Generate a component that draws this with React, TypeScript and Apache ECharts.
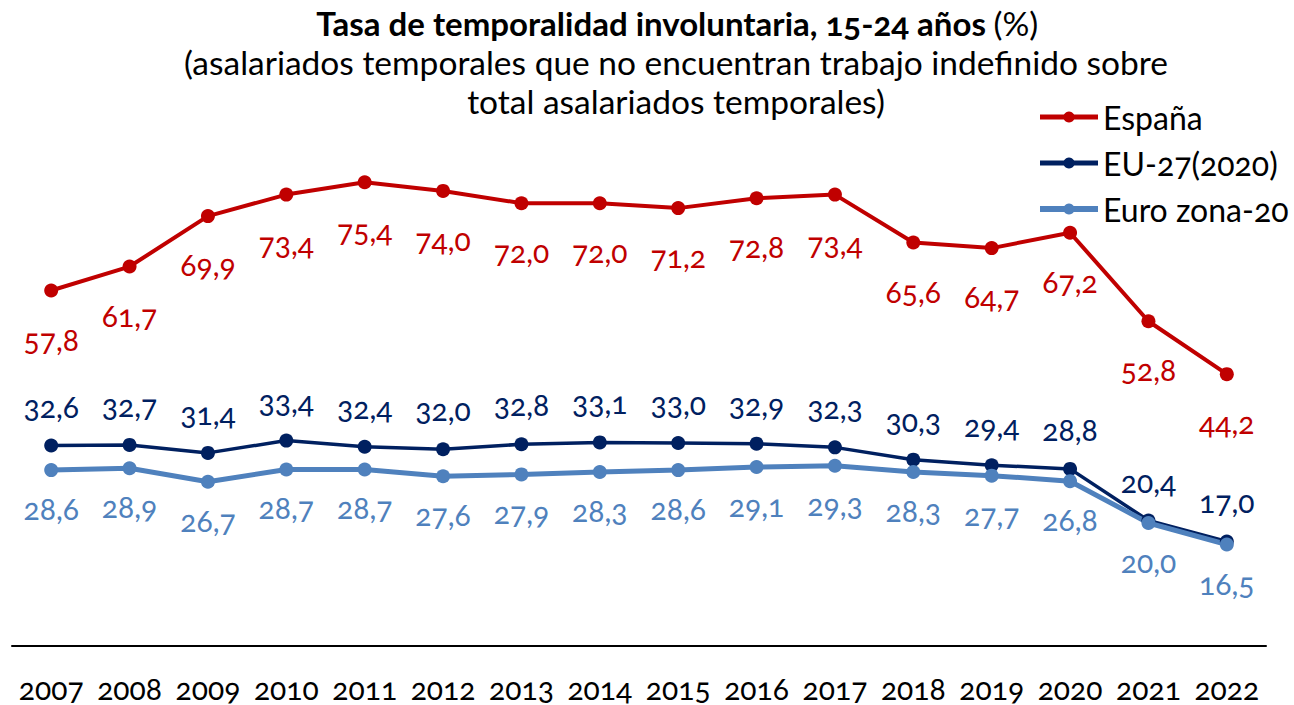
import React, { useEffect, useRef } from "react";
import * as echarts from "echarts";

const years = ["2007","2008","2009","2010","2011","2012","2013","2014","2015","2016","2017","2018","2019","2020","2021","2022"];
const espana = [57.8, 61.7, 69.9, 73.4, 75.4, 74.0, 72.0, 72.0, 71.2, 72.8, 73.4, 65.6, 64.7, 67.2, 52.8, 44.2];
const eu27 = [32.6, 32.7, 31.4, 33.4, 32.4, 32.0, 32.8, 33.1, 33.0, 32.9, 32.3, 30.3, 29.4, 28.8, 20.4, 17.0];
const euroZona = [28.6, 28.9, 26.7, 28.7, 28.7, 27.6, 27.9, 28.3, 28.6, 29.1, 29.3, 28.3, 27.7, 26.8, 20.0, 16.5];

const FONT = "Lato, 'Open Sans', sans-serif";
const fmt = (p: any) => Number(p.value).toFixed(1).replace(".", ",");

export default function App() {
  const ref = useRef<HTMLDivElement>(null);
  useEffect(() => {
    document.body.style.margin = "0";
    const chart = echarts.init(ref.current!, undefined, { renderer: "svg" });
    const mk = (name: string, data: number[], color: string, width: number, pos: string, dist: number, size: number) => ({
      name,
      type: "line",
      data,
      symbol: "circle",
      symbolSize: size,
      itemStyle: { color },
      lineStyle: { color, width },
      label: {
        show: true,
        position: pos,
        distance: dist,
        formatter: fmt,
        color,
        fontSize: 30,
        fontFamily: FONT,
      },
    });
    chart.setOption({
      animation: false,
      title: {
        left: 676,
        top: 3,
        padding: 0,
        textAlign: "center",
        text:
          "{b|Tasa de temporalidad involuntaria, 15-24 años} {n|(%)}\n{n|(asalariados temporales que no encuentran trabajo indefinido sobre}\n{n|total asalariados temporales)}",
        textStyle: {
          fontWeight: "normal",
          rich: {
            b: { fontSize: 33, fontWeight: "bold", fontFamily: FONT, color: "#000", lineHeight: 39 },
            n: { fontSize: 33.5, fontWeight: "normal", fontFamily: FONT, color: "#000", lineHeight: 39 },
          },
        },
      },
      legend: {
        orient: "vertical",
        left: 1037,
        top: 101,
        padding: 0,
        itemWidth: 58,
        itemHeight: 14,
        itemGap: 14,
        textStyle: { fontSize: 32, fontFamily: FONT, color: "#000", lineHeight: 32 },
        data: [
          { name: "España", lineStyle: { width: 5 } },
          { name: "EU-27(2020)", lineStyle: { width: 5 } },
          { name: "Euro zona-20", lineStyle: { width: 6 } },
        ],
      },
      grid: { left: 12, right: 28, top: 154, bottom: 59, containLabel: false },
      xAxis: {
        type: "category",
        data: years,
        boundaryGap: true,
        axisLine: { lineStyle: { color: "#000", width: 2 } },
        axisTick: { show: false },
        axisLabel: { fontSize: 30, lineHeight: 30, fontFamily: FONT, color: "#000", margin: 27, interval: 0 },
      },
      yAxis: { type: "value", min: 0, max: 80, show: false, splitLine: { show: false } },
      series: [
        mk("España", espana, "#C00000", 4, "bottom", 26, 14),
        mk("EU-27(2020)", eu27, "#002060", 3.5, "top", 18, 14),
        mk("Euro zona-20", euroZona, "#4F81BD", 5, "bottom", 16, 14),
      ],
    });
    return () => chart.dispose();
  }, []);
  return (
    <>
      <style>{`svg text { font-variant-numeric: oldstyle-nums !important; font-feature-settings: "onum" 1 !important; }`}</style>
      <div ref={ref} style={{ position: "absolute", left: 0, top: 0, width: 1294, height: 705 }} />
    </>
  );
}
